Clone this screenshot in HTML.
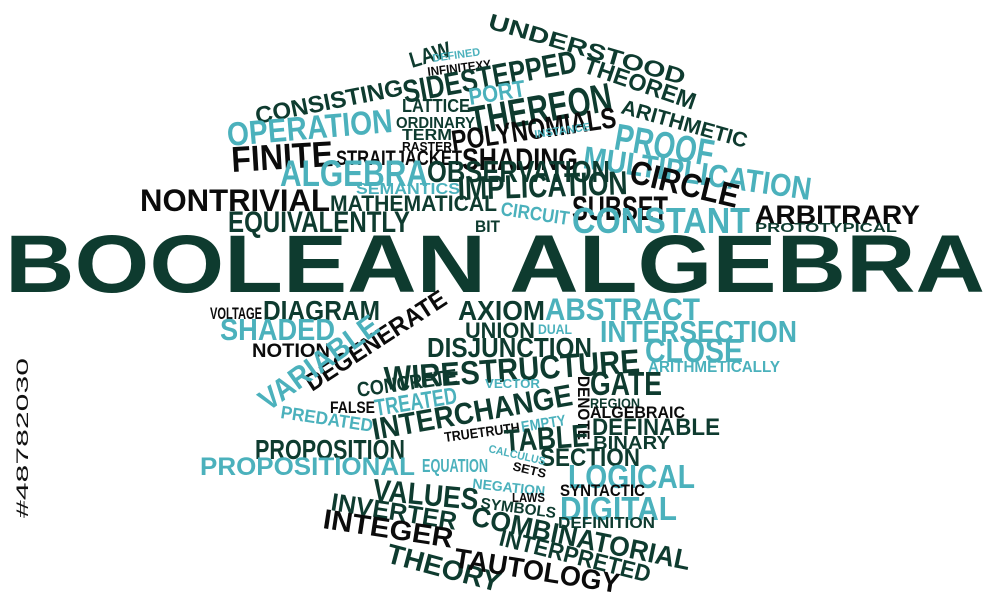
<!DOCTYPE html>
<html><head><meta charset="utf-8"><style>
html,body{margin:0;padding:0;background:#fff;width:1000px;height:598px;overflow:hidden}
svg{display:block}
text{font-family:"Liberation Sans",sans-serif;font-weight:bold}
</style></head><body>
<svg id="cloud" width="1000" height="598" viewBox="0 0 1000 598" xmlns="http://www.w3.org/2000/svg">
<text x="0" y="0" transform="translate(28,518) rotate(-90)" font-size="17" fill="#111" textLength="160" lengthAdjust="spacingAndGlyphs" style="font-weight:normal">#48782030</text>
</svg>
<script>
// [text, x, baselineY, angleDeg, length, capHeight, colorKey]
var G='#0e3b2f',K='#0b0b0b',T='#4bb1bc';
var words=[
['BOOLEAN ALGEBRA',5,292,0,980,59,G],
['UNDERSTOOD',487,28,16.2,204,16,G],
['LAW',412,68,-16.7,42,16,G],
['DEFINED',433,62,-8,48,8,T],
['INFINITEXY',428,76,-7,64,9,K],
['SIDESTEPPED',405,103,-10.2,176,23,G],
['THEOREM',582,72,18.9,117,17,G],
['CONSISTING',257,124,-11.2,150,17,G],
['PORT',470,105,-9,57,17,T],
['LATTICE',402,112,0,68,13,G],
['THEREON',472,135,-10,144,29,G],
['ARITHMETIC',620,113,15.6,130,15,G],
['ORDINARY',396,128,0,79,11,G],
['OPERATION',228,146,-4.9,166,24,T],
['TERM',402,140,0,50,11,G],
['POLYNOMIALS',453,151,-8.3,166,21,K],
['INSTANCE',535,138,-8,56,8,T],
['PROOF',613,149,10,100,27,T],
['RASTER',402,151,0,50,9,K],
['FINITE',232,172,-3.4,102,26,K],
['STRAITJACKET',336,165,0,126,15,K],
['SHADING',462,170,0,116,23,K],
['MULTIPLICATION',582,168,8,230,23,T],
['ALGEBRA',280,186,0,148,27,T],
['OBSERVATION',427,182,0,183,22,G],
['CIRCLE',628,182,13.5,111,24,K],
['SEMANTICS',356,194,0,104,11,T],
['IMPLICATION',458,200,-2,170,24,G],
['NONTRIVIAL',140,211,0,190,23,K],
['MATHEMATICAL',330,211,0,167,16,G],
['SUBSET',572,220,0,96,25,K],
['ARBITRARY',755,224,0,165,19,K],
['EQUIVALENTLY',228,232,0,182,21,G],
['CIRCUIT',500,215,8.4,69,14,T],
['BIT',475,232,0,25,12,G],
['CONSTANT',572,233,0,178,26,T],
['PROTOTYPICAL',755,232,0,142,9,G],
['VOLTAGE',210,319,0,52,12,K],
['DIAGRAM',263,320,0,117,20,G],
['DEGENERATE',312,392,-33,163,18,K],
['AXIOM',458,320,0,87,20,G],
['ABSTRACT',545,320,0,155,23,T],
['SHADED',220,340,0,115,22,T],
['UNION',465,338,0,70,16,G],
['DUAL',538,334,0,34,10,T],
['INTERSECTION',600,342,0,197,22,T],
['NOTION',252,357,0,78,14,K],
['VARIABLE',268,412,-35.7,140,22,T],
['DISJUNCTION',427,357,0,165,20,G],
['CLOSE',645,362,0,98,24,T],
['WIRESTRUCTURE',385,390,-4,256,24,G],
['ARITHMETICALLY',648,372,0,132,11,T],
['VECTOR',485,388,0,55,9,T],
['CONCRETE',358,397,-8,101,15,G],
['DENOTE',578,376,90,64,12,K],
['GATE',590,395,0,72,24,G],
['REGION',590,408,0,50,10,G],
['FALSE',330,413,0,45,12,K],
['TREATED',376,416,-9,83,17,T],
['PREDATED',280,418,8.6,93,13,T],
['INTERCHANGE',374,440,-10,203,22,G],
['ALGEBRAIC',590,418,0,95,12,K],
['TRUETRUTH',445,442,-7.6,76,10,K],
['EMPTY',522,432,-9,45,11,T],
['DEFINABLE',592,435,0,128,17,G],
['TABLE',505,452,-4,85,23,G],
['BINARY',593,449,0,77,13,G],
['PROPOSITION',255,459,0,150,20,G],
['SECTION',540,466,0,100,18,G],
['CALCULUS',488,452,13,58,8,T],
['PROPOSITIONAL',200,475,0,215,18,T],
['EQUATION',422,472,0,66,13,T],
['SETS',512,470,13.6,34,9,K],
['LOGICAL',568,488,0,127,24,T],
['VALUES',372,500,5.4,106,22,G],
['NEGATION',472,488,6.3,73,10,T],
['SYNTACTIC',560,496,0,85,12,K],
['LAWS',512,502,0,33,9,K],
['SYMBOLS',480,508,7.6,76,11,G],
['DIGITAL',560,520,0,117,24,T],
['INVERTER',330,510,9,127,18,G],
['COMBINATORIAL',470,525,11.7,223,20,G],
['DEFINITION',558,528,0,97,11,G],
['INTERPRETED',498,545,14,155,17,G],
['INTEGER',322,528,8.7,131,20,K],
['THEORY',385,562,14.9,117,20,G],
['TAUTOLOGY',453,567,9,167,20,K]
];
var svg=document.getElementById('cloud');
var NS='http://www.w3.org/2000/svg';
for(var i=0;i<words.length;i++){
  var w=words[i];
  var el=document.createElementNS(NS,'text');
  
  
  el.setAttribute('x',w[1]);
  el.setAttribute('y',w[2]);
  el.setAttribute('font-size',(w[5]/0.72).toFixed(1));
  el.setAttribute('fill',w[6]);
  el.setAttribute('textLength',w[4]);
  el.setAttribute('lengthAdjust','spacingAndGlyphs');
  if(w[3]!==0) el.setAttribute('transform','rotate('+w[3]+' '+w[1]+' '+w[2]+')');
  el.textContent=w[0];
  svg.appendChild(el);
}
</script>
</body></html>
